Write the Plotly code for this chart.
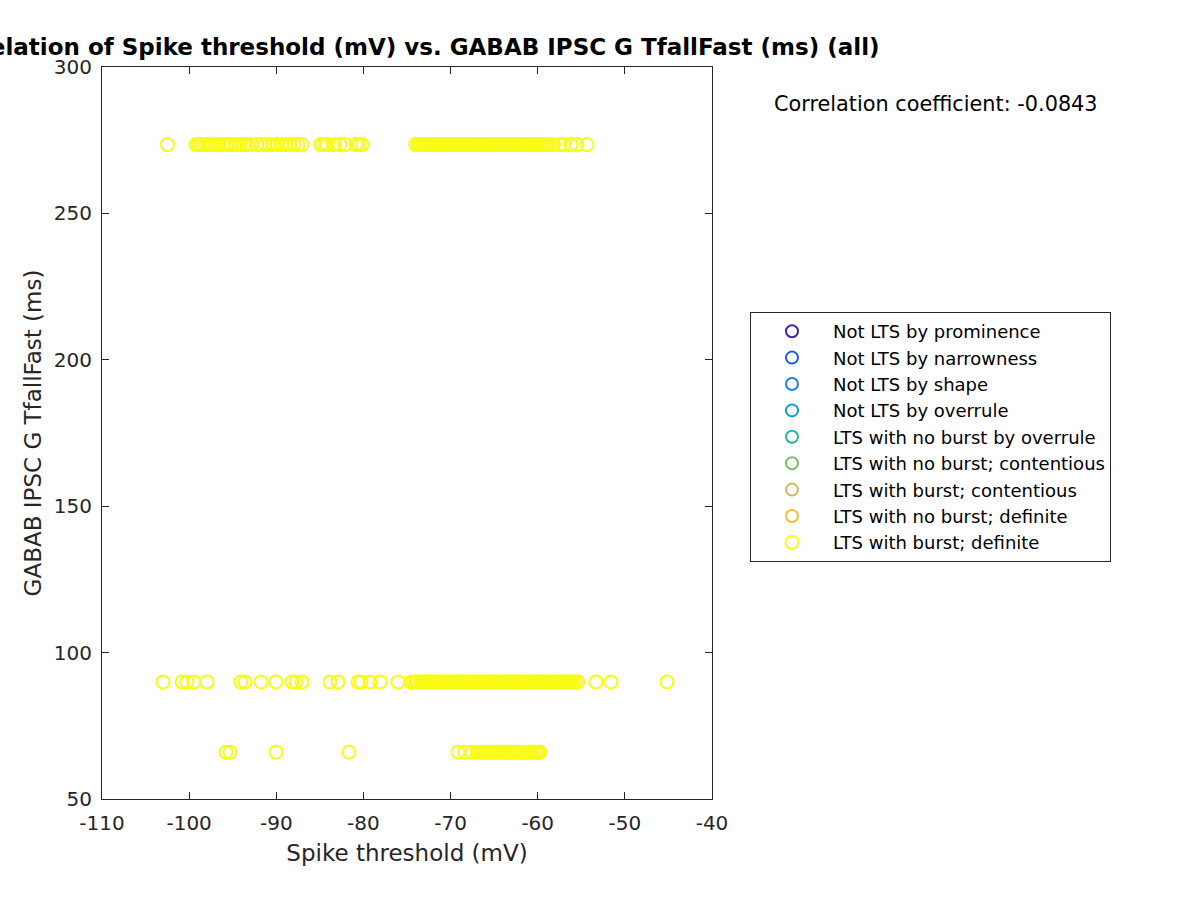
import plotly.graph_objects as go

# ---- data ----
class_names = [
    "Not LTS by prominence",
    "Not LTS by narrowness",
    "Not LTS by shape",
    "Not LTS by overrule",
    "LTS with no burst by overrule",
    "LTS with no burst; contentious",
    "LTS with burst; contentious",
    "LTS with no burst; definite",
    "LTS with burst; definite",
]
class_colors = [
    "rgb(62,38,168)",
    "rgb(20,90,235)",
    "rgb(25,135,225)",
    "rgb(0,165,205)",
    "rgb(40,180,160)",
    "rgb(125,190,105)",
    "rgb(215,180,85)",
    "rgb(252,190,45)",
    "rgb(249,251,20)",
]

# Spike threshold (mV) of the "LTS with burst; definite" cells, grouped by TfallFast level
thr_row_273 = [
    -102.48, -99.21, -98.98, -98.75, -98.41, -98.07, -97.72, -97.38, -96.92,
    -96.57, -96.11, -95.66, -95.20, -94.62, -94.17, -93.71, -93.36, -92.90,
    -92.21, -91.75, -91.29, -90.84, -90.38, -89.92, -89.34, -88.88, -88.43,
    -87.97, -87.51, -87.05, -84.87, -84.53, -84.18, -83.38, -82.69, -82.11,
    -80.85, -80.51, -80.16,
    -74.0, -73.7, -73.5, -73.2, -73.0, -72.8, -72.5, -72.3, -72.1, -71.8,
    -71.6, -71.3, -71.1, -70.9, -70.6, -70.4, -70.1, -69.9, -69.7, -69.4,
    -69.2, -68.9, -68.7, -68.5, -68.2, -68.0, -67.7, -67.5, -67.3, -67.0,
    -66.8, -66.5, -66.3, -66.1, -65.8, -65.6, -65.4, -65.1, -64.9, -64.6,
    -64.4, -64.2, -63.9, -63.7, -63.4, -63.2, -63.0, -62.7, -62.5, -62.2,
    -62.0, -61.8, -61.5, -61.3, -61.0, -60.8, -60.6, -60.3, -60.1, -59.8,
    -59.6, -59.3, -59.0, -58.7, -58.4, -58.2,
    -57.44, -57.0, -56.18, -55.5, -54.34,
]
thr_row_90 = [
    -103.00, -100.82, -100.25, -99.45, -97.95, -94.05, -93.59, -91.75,
    -90.03, -88.20, -87.74, -87.05, -83.84, -82.92, -80.62, -80.28, -79.24,
    -78.10, -76.03, -74.54,
    -74.3, -74.0, -73.8, -73.5, -73.3, -73.0, -72.8, -72.6, -72.3, -72.1,
    -71.8, -71.6, -71.4, -71.1, -70.9, -70.6, -70.4, -70.2, -69.9, -69.7,
    -69.4, -69.2, -69.0, -68.7, -68.5, -68.2, -68.0, -67.8, -67.5, -67.3,
    -67.0, -66.8, -66.6, -66.3, -66.1, -65.8, -65.6, -65.4, -65.1, -64.9,
    -64.6, -64.4, -64.2, -63.9, -63.7, -63.4, -63.2, -63.0, -62.7, -62.5,
    -62.2, -62.0, -61.8, -61.5, -61.3, -61.0, -60.8, -60.6, -60.3, -60.1,
    -59.8, -59.6, -59.4, -59.1, -58.9, -58.6, -58.4, -58.2, -57.9, -57.7,
    -57.4, -57.2, -57.0, -56.7, -56.5, -56.2, -56.0, -55.7, -55.4,
    -53.31, -51.59, -45.16,
]
thr_row_66 = [
    -95.77, -95.31, -90.03, -81.66, -69.15, -68.34, -67.54,
    -66.85, -66.6, -66.3, -66.1, -65.8, -65.6, -65.3, -65.1, -64.8, -64.6,
    -64.3, -64.1, -63.8, -63.6, -63.3, -63.1, -62.8, -62.6, -62.3, -62.1,
    -61.8, -61.6, -61.3, -61.1, -60.8, -60.5, -60.2, -59.95, -59.74,
]
tfall_levels = [273.5, 90.0, 66.0]
corr_coef = -0.0843

x_range = [-110, -40]
y_range = [50, 300]
x_tickvals = [-110, -100, -90, -80, -70, -60, -50, -40]
x_ticktext = ["-110", "-100", "-90", "-80", "-70", "-60", "-50", "-40"]
y_tickvals = [50, 100, 150, 200, 250, 300]
y_ticktext = ["50", "100", "150", "200", "250", "300"]

# ---- figure ----
fig = go.Figure()

for name, col in zip(class_names[:-1], class_colors[:-1]):
    fig.add_trace(go.Scatter(
        x=[None], y=[None], mode="markers", name=name,
        marker=dict(symbol="circle-open", size=12, color=col, line=dict(width=2)),
    ))

xs = thr_row_273 + thr_row_90 + thr_row_66
ys = ([tfall_levels[0]] * len(thr_row_273) + [tfall_levels[1]] * len(thr_row_90)
      + [tfall_levels[2]] * len(thr_row_66))
fig.add_trace(go.Scatter(
    x=xs, y=ys, mode="markers", name=class_names[-1],
    marker=dict(symbol="circle-open", size=13, color=class_colors[-1], line=dict(width=2)),
))

axis_common = dict(
    showline=True, linecolor="#262626", linewidth=1, mirror="ticks",
    ticks="inside", ticklen=7, tickcolor="#262626", tickwidth=1,
    showgrid=False, zeroline=False,
    tickfont=dict(family="DejaVu Sans", size=20, color="#262626"),
)

fig.update_layout(
    width=1200, height=900,
    margin=dict(l=102, r=488, t=67, b=101),
    plot_bgcolor="white", paper_bgcolor="white",
    font=dict(family="DejaVu Sans", color="#262626"),
    title=dict(
        text="<b>Correlation of Spike threshold (mV) vs. GABAB IPSC G TfallFast (ms) (all)</b>",
        x=407 / 1200, xanchor="center", xref="container",
        y=1 - 47 / 900, yanchor="middle", yref="container",
        font=dict(family="DejaVu Sans", size=23, color="black"),
    ),
    xaxis=dict(range=x_range, tickvals=x_tickvals, ticktext=x_ticktext,
               ticklabelstandoff=6,
               title=dict(text="Spike threshold (mV)",
                          font=dict(family="DejaVu Sans", size=23, color="#262626"),
                          standoff=10),
               **axis_common),
    yaxis=dict(range=y_range, tickvals=y_tickvals, ticktext=y_ticktext,
               ticklabelstandoff=5,
               title=dict(text="GABAB IPSC G TfallFast (ms)",
                          font=dict(family="DejaVu Sans", size=23, color="#262626"),
                          standoff=5),
               **axis_common),
    legend=dict(
        xref="container", yref="container",
        x=750 / 1200, y=1 - 312 / 900, xanchor="left", yanchor="top",
        bordercolor="#262626", borderwidth=1, bgcolor="white",
        font=dict(family="DejaVu Sans", size=18, color="black"),
        itemwidth=72,
    ),
    annotations=[dict(
        text=f"Correlation coefficient: {corr_coef}",
        xref="paper", yref="paper",
        x=(936 - 102) / 610, y=(799 - 104) / 732,
        xanchor="center", yanchor="middle", showarrow=False,
        font=dict(family="DejaVu Sans", size=20.8, color="black"),
    )],
)

fig.write_html("out.html")
